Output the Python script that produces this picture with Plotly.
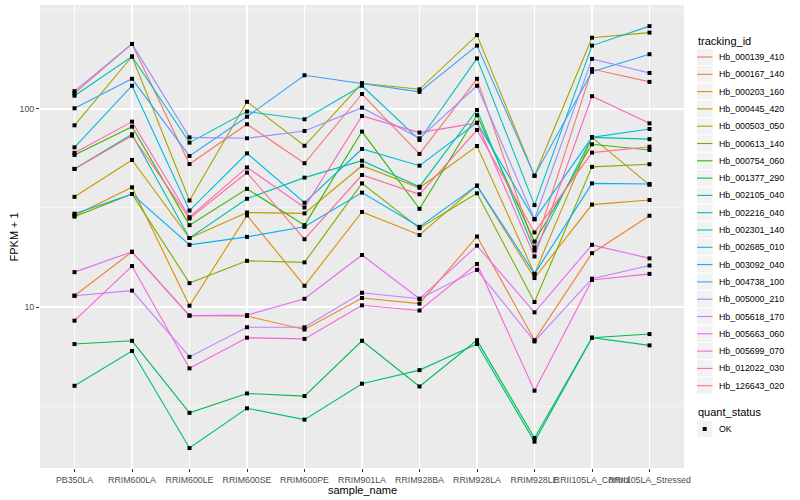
import plotly.graph_objects as go

categories = ["PB350LA", "RRIM600LA", "RRIM600LE", "RRIM600SE", "RRIM600PE",
              "RRIM901LA", "RRIM928BA", "RRIM928LA", "RRIM928LE",
              "RRII105LA_Control", "RRII105LA_Stressed"]

tracking_ids = ["Hb_000139_410", "Hb_000167_140", "Hb_000203_160", "Hb_000445_420",
                "Hb_000503_050", "Hb_000613_140", "Hb_000754_060", "Hb_001377_290",
                "Hb_002105_040", "Hb_002216_040", "Hb_002301_140", "Hb_002685_010",
                "Hb_003092_040", "Hb_004738_100", "Hb_005000_210", "Hb_005618_170",
                "Hb_005663_060", "Hb_005699_070", "Hb_012022_030", "Hb_126643_020"]

# FPKM + 1 values, one list per gene, in the order of `categories`
hb_000139_410 = [120, 213, 52.7, 83.7, 53.2, 119, 59.3, 142, 20.0, 159, 137]
hb_000167_140 = [11.4, 19.0, 9.05, 9.0, 7.7, 11.1, 10.4, 22.7, 6.8, 18.7, 28.9]
hb_000203_160 = [29.0, 40.2, 10.15, 29.0, 12.8, 30.2, 23.1, 41.0, 14.0, 32.9, 34.7]
hb_000445_420 = [36.0, 55.3, 22.3, 30.0, 29.7, 51.7, 40.0, 65.0, 14.7, 71.9, 41.4]
hb_000503_050 = [82.7, 184, 34.5, 108.7, 65.2, 134.8, 125.7, 236, 46.0, 229, 243]
hb_000613_140 = [28.6, 37.2, 13.2, 17.1, 16.8, 42.1, 25.0, 37.5, 10.6, 51.0, 52.6]
hb_000754_060 = [58.6, 81.4, 25.9, 39.5, 25.9, 76.9, 31.3, 93.0, 21.4, 66.3, 62.1]
hb_001377_290 = [6.5, 6.75, 2.92, 3.66, 3.55, 6.75, 3.97, 6.8, 2.18, 7.0, 7.3]
hb_002105_040 = [4.0, 6.0, 1.94, 3.08, 2.7, 4.1, 4.8, 6.5, 2.09, 7.0, 6.4]
hb_002216_040 = [49.8, 74.5, 22.3, 35.2, 45.0, 54.8, 40.5, 98.8, 19.3, 71.9, 70.4]
hb_002301_140 = [116.7, 184, 67.6, 97.0, 88.7, 131, 69.7, 180, 32.7, 209, 262]
hb_002685_010 = [64.0, 131, 30.7, 59.7, 33.6, 62.8, 51.7, 85.3, 27.7, 71.9, 79.2]
hb_003092_040 = [29.6, 37.2, 20.6, 22.6, 25.4, 37.8, 25.4, 41.0, 14.7, 42.1, 41.8]
hb_004738_100 = [100.8, 142, 57.9, 91.4, 148, 134.8, 122, 209, 46.0, 154, 189]
hb_005000_210 = [123, 213, 71.9, 71.1, 77.4, 101.5, 71.1, 131, 27.8, 179, 152]
hb_005618_170 = [11.4, 12.1, 5.6, 7.9, 7.9, 11.8, 11.0, 15.4, 6.7, 13.9, 16.2]
hb_005663_060 = [15.0, 19.0, 9.05, 9.1, 11.0, 18.3, 11.0, 20.4, 9.4, 20.6, 17.6]
hb_005699_070 = [8.53, 16.1, 4.9, 7.0, 6.9, 10.2, 9.6, 16.5, 3.78, 13.7, 14.7]
hb_012022_030 = [60.0, 86.3, 28.4, 50.7, 31.8, 92.2, 76.0, 85.0, 18.0, 116, 84.6]
hb_126643_020 = [49.8, 73.3, 28.0, 47.7, 22.0, 46.4, 37.1, 78.3, 23.8, 60.2, 64.5]

series_values = [hb_000139_410, hb_000167_140, hb_000203_160, hb_000445_420,
                 hb_000503_050, hb_000613_140, hb_000754_060, hb_001377_290,
                 hb_002105_040, hb_002216_040, hb_002301_140, hb_002685_010,
                 hb_003092_040, hb_004738_100, hb_005000_210, hb_005618_170,
                 hb_005663_060, hb_005699_070, hb_012022_030, hb_126643_020]

quant_status = ["OK"]
y_tick_values = [10, 100]
y_tick_labels = ["10", "100"]
x_title = "sample_name"
y_title = "FPKM + 1"

# ggplot2 default hue palette for 20 levels
series_colors = ["#F8766D", "#EA8331", "#D89000", "#C09B00", "#A3A500",
                 "#7CAE00", "#39B600", "#00BB4E", "#00BF7D", "#00C1A3",
                 "#00BFC4", "#00BAE0", "#00B0F6", "#35A2FF", "#9590FF",
                 "#C77CFF", "#E76BF3", "#FA62DB", "#FF62BC", "#FF6C91"]

FONT = "Liberation Sans, Arial, sans-serif"
W, H = 800, 500
L, R, T, B = 40, 116, 5, 32
PW, PH = W - L - R, H - T - B


def px(x):
    return (x - L) / PW


def py(y):
    return (H - B - y) / PH


fig = go.Figure()
for i, (name, vals) in enumerate(zip(tracking_ids, series_values)):
    fig.add_trace(go.Scatter(
        x=categories, y=vals, mode="lines", name=name,
        line=dict(color=series_colors[i], width=1.1),
        showlegend=False, hoverinfo="x+y+name"))

all_x = [c for _ in series_values for c in categories]
all_y = [v for vals in series_values for v in vals]
fig.add_trace(go.Scatter(
    x=all_x, y=all_y, mode="markers", name=quant_status[0],
    marker=dict(symbol="square", size=4, color="black"),
    showlegend=False))

shapes = []
annotations = []

# axis titles
annotations.append(dict(text=x_title, x=px((L + W - R) / 2), y=py(489.5), xref="paper", yref="paper",
                        xanchor="center", yanchor="middle", showarrow=False,
                        font=dict(size=11, color="black", family=FONT)))
annotations.append(dict(text=y_title, x=px(13), y=py((T + H - B) / 2), xref="paper", yref="paper",
                        xanchor="center", yanchor="middle", showarrow=False, textangle=-90,
                        font=dict(size=11, color="black", family=FONT)))

# ggplot-style legends, laid out in pixels
key_x0, key_x1 = 696.5, 713.0
key_h = 17.3
annotations.append(dict(text="tracking_id", x=px(696), y=py(41), xref="paper", yref="paper",
                        xanchor="left", yanchor="middle", showarrow=False,
                        font=dict(size=11, color="black", family=FONT)))
for i, name in enumerate(tracking_ids):
    yc = 57.0 + i * key_h
    shapes.append(dict(type="rect", xref="paper", yref="paper",
                       x0=px(key_x0), x1=px(key_x1), y0=py(yc - key_h / 2), y1=py(yc + key_h / 2),
                       fillcolor="#F2F2F2", line=dict(color="white", width=1), layer="below"))
    shapes.append(dict(type="line", xref="paper", yref="paper",
                       x0=px(key_x0 + 0.5), x1=px(key_x1 - 0.5), y0=py(yc), y1=py(yc),
                       line=dict(color=series_colors[i], width=1.1)))
    annotations.append(dict(text=name, x=px(717), y=py(yc), xref="paper", yref="paper",
                            xanchor="left", yanchor="middle", showarrow=False,
                            font=dict(size=8.8, color="black", family=FONT)))

annotations.append(dict(text="quant_status", x=px(696), y=py(412), xref="paper", yref="paper",
                        xanchor="left", yanchor="middle", showarrow=False,
                        font=dict(size=11, color="black", family=FONT)))
ok_y = 429.0
shapes.append(dict(type="rect", xref="paper", yref="paper",
                   x0=px(key_x0), x1=px(key_x1), y0=py(ok_y - key_h / 2), y1=py(ok_y + key_h / 2),
                   fillcolor="#F2F2F2", line=dict(color="white", width=1), layer="below"))
shapes.append(dict(type="rect", xref="paper", yref="paper",
                   x0=px(702.7), x1=px(706.7), y0=py(ok_y - 2), y1=py(ok_y + 2),
                   fillcolor="black", line=dict(width=0)))
annotations.append(dict(text=quant_status[0], x=px(717), y=py(ok_y), xref="paper", yref="paper",
                        xanchor="left", yanchor="middle", showarrow=False,
                        font=dict(size=8.8, color="black", family=FONT)))

fig.update_layout(
    width=W, height=H,
    margin=dict(l=L, r=R, t=T, b=B, autoexpand=False),
    paper_bgcolor="white", plot_bgcolor="#EBEBEB",
    font=dict(family=FONT, size=9, color="#4D4D4D"),
    showlegend=False, hovermode=False,
    shapes=shapes, annotations=annotations,
)

fig.update_xaxes(
    type="category", categoryorder="array", categoryarray=categories,
    range=[-0.6, 10.6], showgrid=True, gridcolor="white", gridwidth=1.1,
    zeroline=False, showline=False, tickangle=0,
    ticks="outside", ticklen=3, tickcolor="#333333", tickwidth=1,
    tickfont=dict(size=8.8, color="#4D4D4D", family=FONT),
    automargin=False)

fig.update_yaxes(
    type="log", range=[0.187, 2.525],
    tickmode="array", tickvals=y_tick_values, ticktext=y_tick_labels,
    showgrid=True, gridcolor="white", gridwidth=1.1,
    minor=dict(tickmode="array", tickvals=[3.1623, 31.623, 316.23],
               showgrid=True, gridcolor="white", gridwidth=0.5, ticks=""),
    zeroline=False, showline=False,
    ticks="outside", ticklen=3, tickcolor="#333333", tickwidth=1,
    tickfont=dict(size=8.8, color="#4D4D4D", family=FONT),
    automargin=False)

fig.write_html(
    "out.html",
    config={"displayModeBar": False, "staticPlot": True},
    post_script="document.body.style.margin='0';document.body.style.padding='0';"
                "document.documentElement.style.overflow='hidden';")
